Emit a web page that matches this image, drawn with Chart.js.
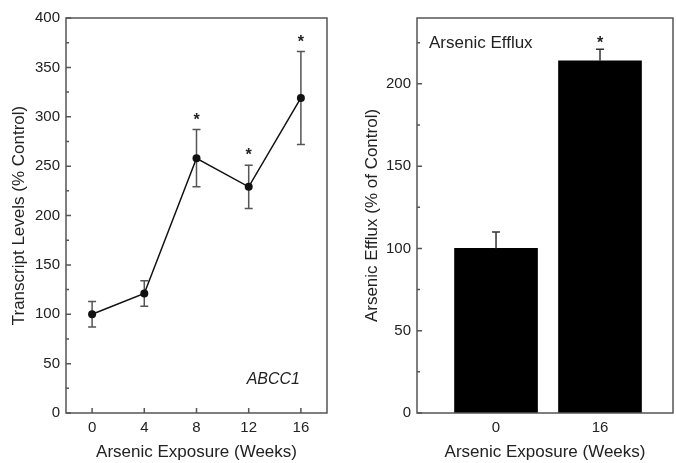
<!DOCTYPE html>
<html><head><meta charset="utf-8">
<script src="https://cdn.jsdelivr.net/npm/chart.js@4"></script>
<style>
html,body{margin:0;padding:0;background:#fff;}
#wrap{position:relative;width:676px;height:463px;background:#fff;}
#c1{position:absolute;left:0;top:0;}
#c2{position:absolute;left:340px;top:0;}
</style></head><body>
<div id="wrap"><canvas id="c1" width="340" height="463"></canvas><canvas id="c2" width="336" height="463"></canvas></div>
<script>
// ---- Data (left panel: ABCC1 transcript levels) ----
const weeks = [0, 4, 8, 12, 16];
const transcript = [100, 121, 258, 229, 319];
const transcriptErr = [13, 13, 29, 22, 47];
const transcriptSig = [false, false, true, true, true];
const yTicksLeft = [0, 50, 100, 150, 200, 250, 300, 350, 400];

// ---- Data (right panel: arsenic efflux) ----
const effluxWeeks = ['0', '16'];
const efflux = [100, 214];
const effluxErr = [10, 7];
const effluxSig = [false, true];
const yTicksRight = [0, 50, 100, 150, 200];

const F = "'Liberation Sans', Arial, sans-serif";
const TXT = '#222';
const AX = '#555';

function minorsOf(arr, extraTop) {
  const out = [];
  for (let i = 0; i < arr.length - 1; i++) out.push((arr[i] + arr[i + 1]) / 2);
  if (extraTop) out.push(arr[arr.length - 1] + (arr[1] - arr[0]) / 2);
  return out;
}

function frameTicks(minorY, drawXTicks) {
  return {
    id: 'frameTicks',
    afterDraw(chart) {
      const ctx = chart.ctx, a = chart.chartArea;
      const x = chart.scales.x, y = chart.scales.y;
      ctx.save();
      ctx.strokeStyle = AX;
      ctx.lineWidth = 1.5;
      ctx.strokeRect(a.left, a.top, a.right - a.left, a.bottom - a.top);
      ctx.beginPath();
      y.ticks.forEach(t => { const p = y.getPixelForValue(t.value); ctx.moveTo(a.left, p); ctx.lineTo(a.left + 5, p); });
      minorY.forEach(v => { const p = y.getPixelForValue(v); ctx.moveTo(a.left, p); ctx.lineTo(a.left + 3, p); });
      if (drawXTicks) {
        x.ticks.forEach(t => { const p = x.getPixelForValue(t.value); ctx.moveTo(p, a.bottom); ctx.lineTo(p, a.bottom - 5); });
      }
      ctx.stroke();
      ctx.restore();
    }
  };
}

// ---------------- Left chart ----------------
const errLeft = {
  id: 'errLeft',
  beforeDatasetsDraw(chart) {
    const ctx = chart.ctx, x = chart.scales.x, y = chart.scales.y;
    ctx.save();
    ctx.strokeStyle = '#555';
    ctx.lineWidth = 1.5;
    ctx.beginPath();
    weeks.forEach((w, i) => {
      const px = x.getPixelForValue(w);
      const t = y.getPixelForValue(transcript[i] + transcriptErr[i]);
      const b = y.getPixelForValue(transcript[i] - transcriptErr[i]);
      ctx.moveTo(px, t); ctx.lineTo(px, b);
      ctx.moveTo(px - 4, t); ctx.lineTo(px + 4, t);
      ctx.moveTo(px - 4, b); ctx.lineTo(px + 4, b);
    });
    ctx.stroke();
    ctx.restore();
  },
  afterDatasetsDraw(chart) {
    const ctx = chart.ctx, x = chart.scales.x, y = chart.scales.y, a = chart.chartArea;
    ctx.save();
    ctx.fillStyle = TXT;
    ctx.font = 'bold 16px ' + F;
    ctx.textAlign = 'center';
    ctx.textBaseline = 'alphabetic';
    weeks.forEach((w, i) => {
      if (!transcriptSig[i]) return;
      const px = x.getPixelForValue(w);
      const t = y.getPixelForValue(transcript[i] + transcriptErr[i]);
      ctx.fillText('*', px, t - 5);
    });
    ctx.font = 'italic 16px ' + F;
    ctx.textAlign = 'right';
    ctx.textBaseline = 'middle';
    ctx.fillText('ABCC1', a.right - 27, a.bottom - 33);
    ctx.restore();
  }
};

new Chart(document.getElementById('c1'), {
  type: 'line',
  data: {
    datasets: [{
      data: weeks.map((w, i) => ({ x: w, y: transcript[i] })),
      borderColor: '#111', borderWidth: 1.5, tension: 0, fill: false,
      pointRadius: 4, pointBackgroundColor: '#111', pointBorderColor: '#111', pointBorderWidth: 0
    }]
  },
  options: {
    responsive: false, animation: false, devicePixelRatio: 1,
    layout: { padding: { left: 0, right: 13, top: 18, bottom: 0 } },
    plugins: { legend: { display: false }, tooltip: { enabled: false } },
    scales: {
      x: {
        type: 'linear', min: -2, max: 18,
        afterBuildTicks: s => { s.ticks = weeks.map(v => ({ value: v })); },
        afterFit: s => { s.height = 50; },
        grid: { display: false, drawTicks: false, tickLength: 0 },
        border: { display: false },
        ticks: { padding: 6, color: TXT, font: { size: 15, family: F }, autoSkip: false, maxRotation: 0 },
        title: { display: true, text: 'Arsenic Exposure (Weeks)', color: TXT, font: { size: 17, family: F }, padding: { top: 0, bottom: 0 } }
      },
      y: {
        min: 0, max: 400,
        afterBuildTicks: s => { s.ticks = yTicksLeft.map(v => ({ value: v })); },
        afterFit: s => { s.width = 66; },
        grid: { display: false, drawTicks: false, tickLength: 0 },
        border: { display: false },
        ticks: { padding: 6, color: TXT, font: { size: 15, family: F } },
        title: { display: true, text: 'Transcript Levels (% Control)', color: TXT, font: { size: 17, family: F }, padding: { top: 9, bottom: 0 } }
      }
    }
  },
  plugins: [errLeft, frameTicks(minorsOf(yTicksLeft, false), true)]
});

// ---------------- Right chart ----------------
const errRight = {
  id: 'errRight',
  afterDatasetsDraw(chart) {
    const ctx = chart.ctx, x = chart.scales.x, y = chart.scales.y, a = chart.chartArea;
    ctx.save();
    ctx.strokeStyle = '#333';
    ctx.lineWidth = 1.5;
    ctx.beginPath();
    efflux.forEach((v, i) => {
      const px = x.getPixelForValue(i);
      const t = y.getPixelForValue(v + effluxErr[i]);
      const b = y.getPixelForValue(v);
      ctx.moveTo(px, t); ctx.lineTo(px, b);
      ctx.moveTo(px - 4, t); ctx.lineTo(px + 4, t);
    });
    ctx.stroke();
    ctx.fillStyle = TXT;
    ctx.font = 'bold 16px ' + F;
    ctx.textAlign = 'center';
    ctx.textBaseline = 'alphabetic';
    efflux.forEach((v, i) => {
      if (!effluxSig[i]) return;
      const px = x.getPixelForValue(i);
      const t = y.getPixelForValue(v + effluxErr[i]);
      ctx.fillText('*', px, t - 1);
    });
    ctx.font = '17px ' + F;
    ctx.textAlign = 'left';
    ctx.textBaseline = 'middle';
    ctx.fillText('Arsenic Efflux', a.left + 12, a.top + 25);
    ctx.restore();
  }
};

new Chart(document.getElementById('c2'), {
  type: 'bar',
  data: {
    datasets: [{
      data: efflux.map((v, i) => ({ x: i, y: v })),
      backgroundColor: '#000', borderColor: '#222', borderWidth: 0,
      barThickness: 83
    }]
  },
  options: {
    responsive: false, animation: false, devicePixelRatio: 1,
    layout: { padding: { left: 13, right: 3, top: 18, bottom: 0 } },
    plugins: { legend: { display: false }, tooltip: { enabled: false } },
    scales: {
      x: {
        type: 'linear', min: -0.76, max: 1.702, offset: false,
        afterBuildTicks: s => { s.ticks = effluxWeeks.map((w, i) => ({ value: i })); },
        afterFit: s => { s.height = 50; },
        grid: { display: false, drawTicks: false, tickLength: 0 },
        border: { display: false },
        ticks: { padding: 6, color: TXT, font: { size: 15, family: F }, autoSkip: false, maxRotation: 0,
                 callback: (v, i) => effluxWeeks[i] },
        title: { display: true, text: 'Arsenic Exposure (Weeks)', color: TXT, font: { size: 17, family: F }, padding: { top: 0, bottom: 0 } }
      },
      y: {
        min: 0, max: 240,
        afterBuildTicks: s => { s.ticks = yTicksRight.map(v => ({ value: v })); },
        afterFit: s => { s.width = 64; },
        grid: { display: false, drawTicks: false, tickLength: 0 },
        border: { display: false },
        ticks: { padding: 6, color: TXT, font: { size: 15, family: F } },
        title: { display: true, text: 'Arsenic Efflux (% of Control)', color: TXT, font: { size: 17, family: F }, padding: { top: 9, bottom: 0 } }
      }
    }
  },
  plugins: [errRight, frameTicks(minorsOf(yTicksRight, true), false)]
});
</script>
</body></html>
